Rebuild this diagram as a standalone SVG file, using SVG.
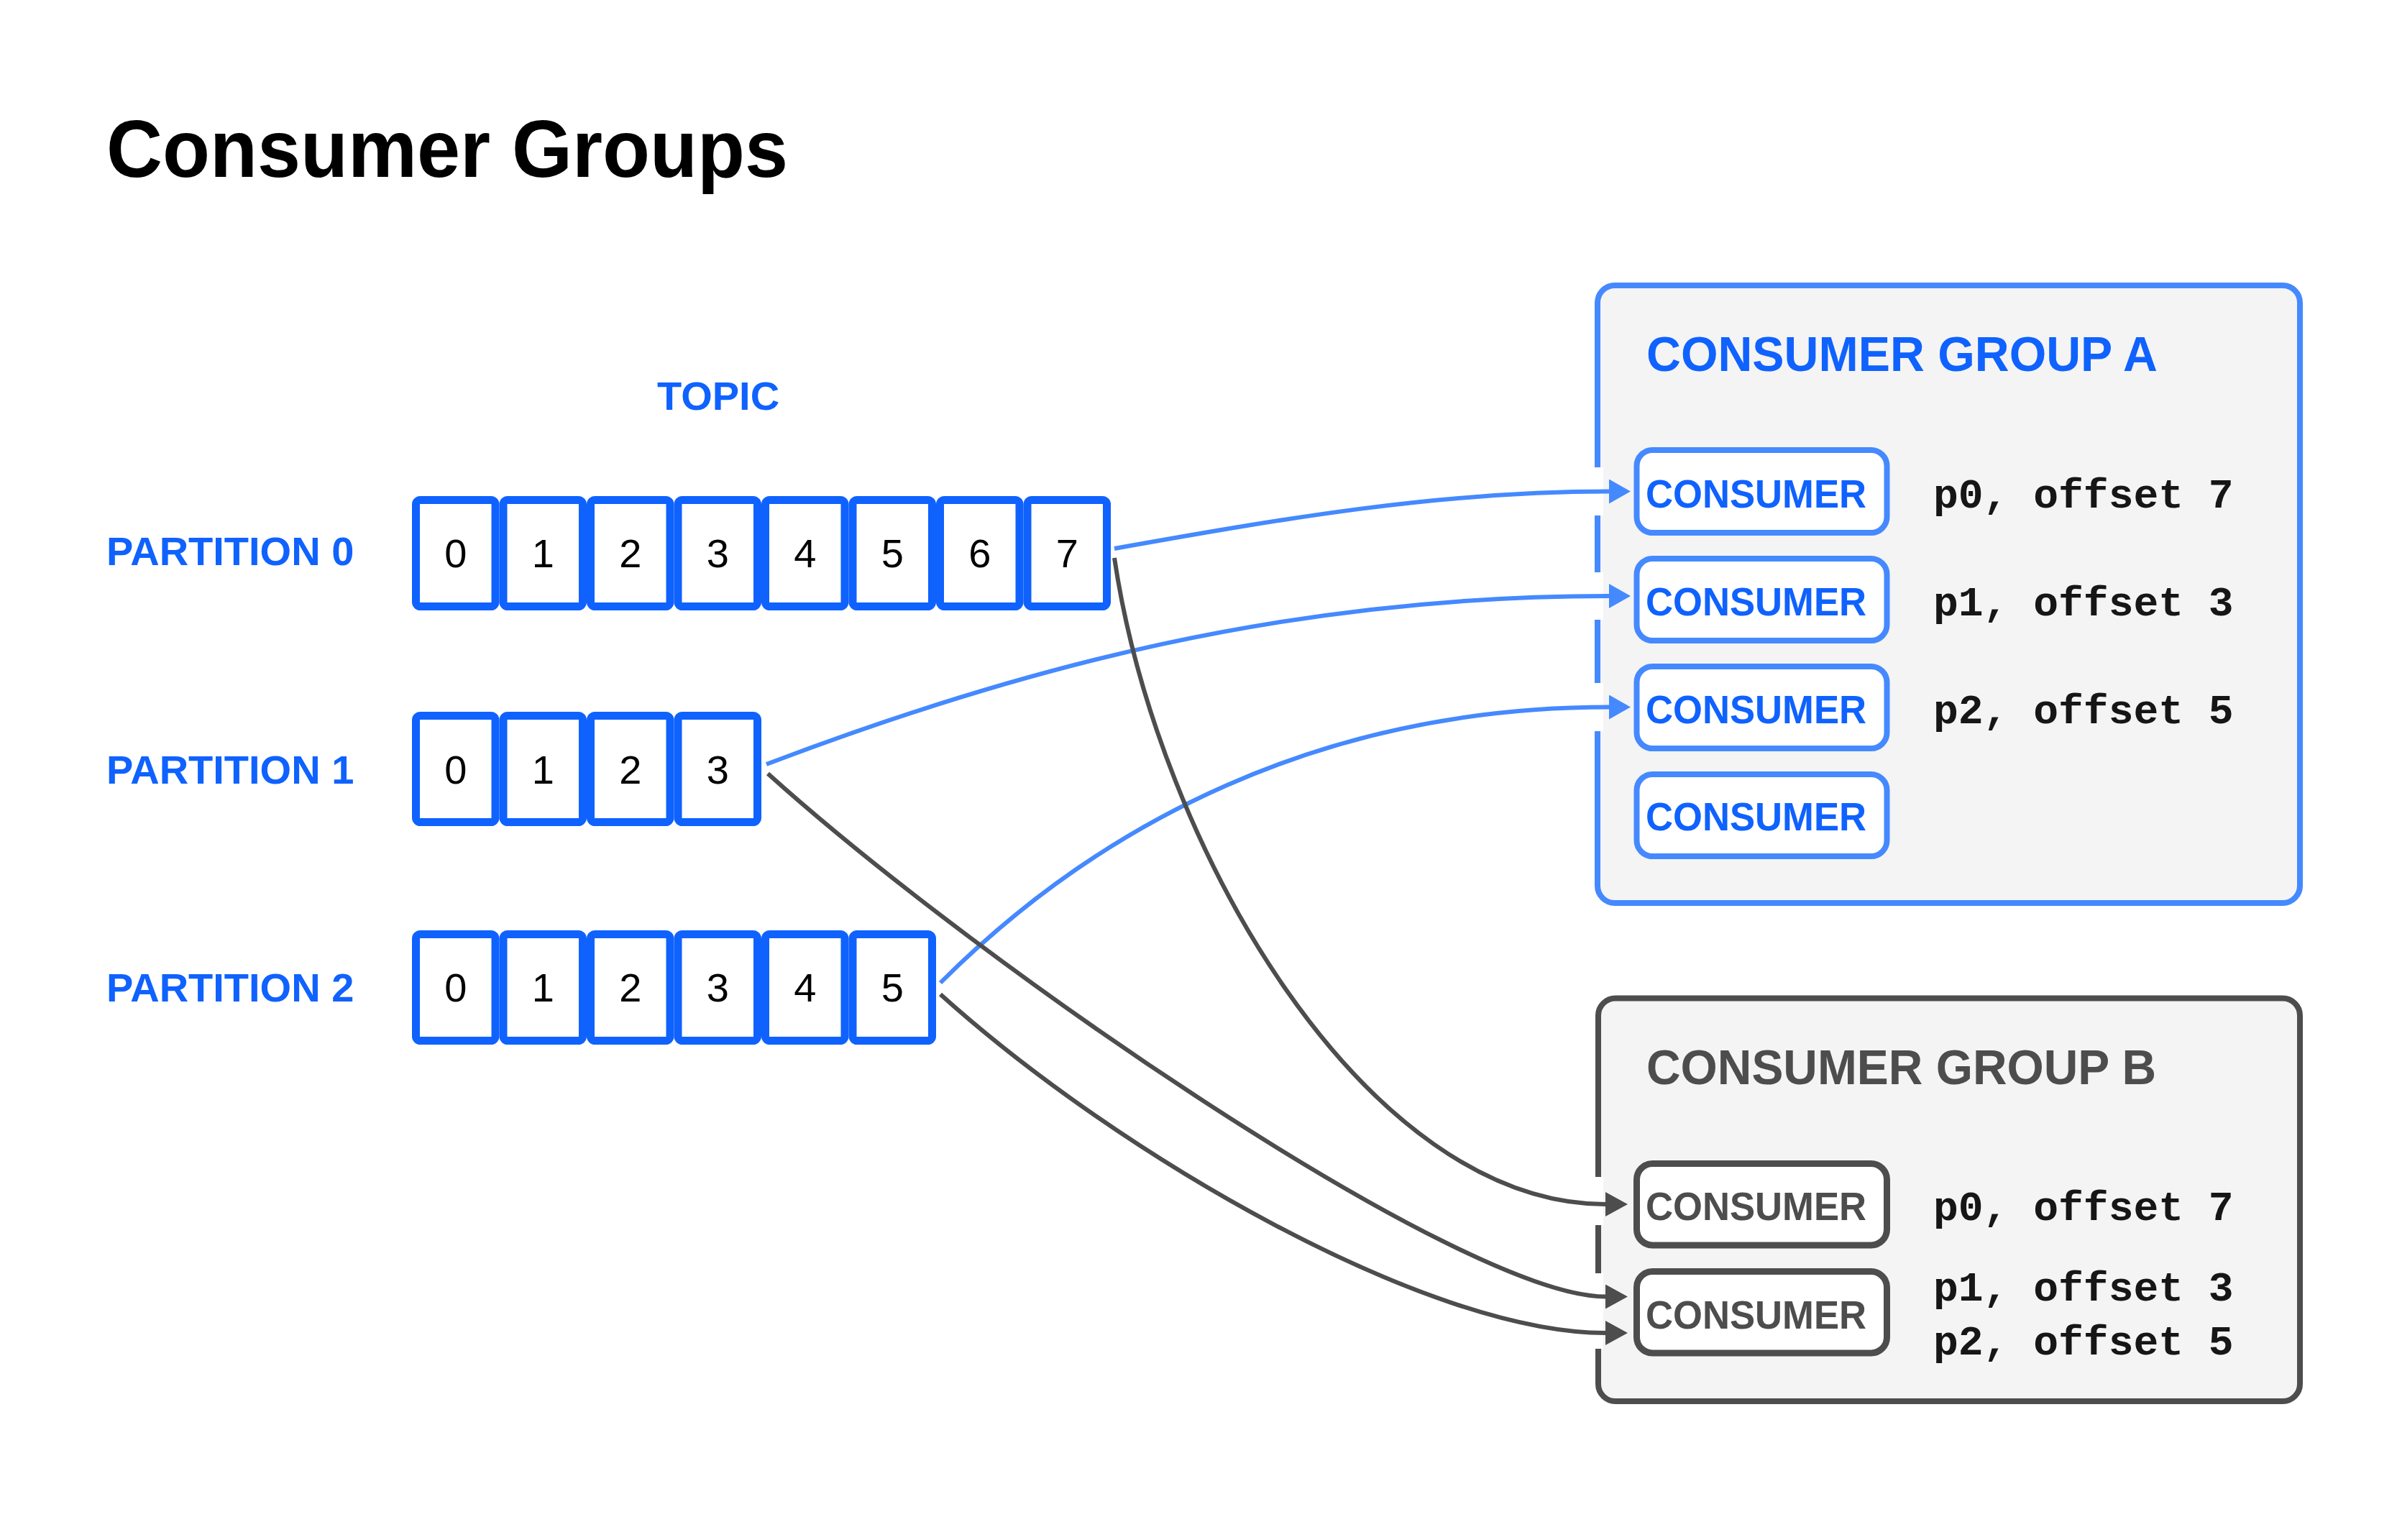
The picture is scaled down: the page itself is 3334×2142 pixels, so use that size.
<svg xmlns="http://www.w3.org/2000/svg" width="3334" height="2142" viewBox="0 0 3334 2142">
<style>
.sans{font-family:"Liberation Sans",Arial,sans-serif}
.mono{font-family:"Liberation Mono","Courier New",monospace;font-weight:bold;font-size:58px;fill:#161616}
.blue{fill:#0f62fe}
.gray{fill:#4d4d4d}
.cell{fill:#fff;stroke:#0f62fe;stroke-width:11}
.num{font-family:"Liberation Sans",Arial,sans-serif;font-size:56px;fill:#000;text-anchor:middle}
.plabel{font-family:"Liberation Sans",Arial,sans-serif;font-weight:bold;font-size:56px;fill:#0f62fe}
.grpA{fill:#f4f4f4;stroke:#4589ff;stroke-width:8}
.grpB{fill:#f4f4f4;stroke:#4d4d4d;stroke-width:8}
.conA{fill:#fff;stroke:#4589ff;stroke-width:8}
.conB{fill:#fff;stroke:#4d4d4d;stroke-width:9}
.ctext{font-family:"Liberation Sans",Arial,sans-serif;font-weight:bold;font-size:55px}
.gtitle{font-family:"Liberation Sans",Arial,sans-serif;font-weight:bold;font-size:68px}
.gap{fill:#fff}
.edgeA{fill:none;stroke:#4589ff;stroke-width:6}
.edgeB{fill:none;stroke:#4d4d4d;stroke-width:6}
</style>
<defs>
<marker id="arrA" markerUnits="userSpaceOnUse" markerWidth="30" markerHeight="34" viewBox="0 0 30 34" refX="0" refY="17" orient="auto">
<path d="M0,0 L30,17 L0,34 z" fill="#4589ff"/>
</marker>
<marker id="arrB" markerUnits="userSpaceOnUse" markerWidth="31" markerHeight="34" viewBox="0 0 31 34" refX="0" refY="17" orient="auto">
<path d="M0,0 L31,17 L0,34 z" fill="#4d4d4d"/>
</marker>
</defs>
<rect width="3334" height="2142" fill="#fff"/>

<text class="sans" x="148" y="246" font-size="114" font-weight="bold" fill="#000" textLength="948" lengthAdjust="spacingAndGlyphs">Consumer Groups</text>

<g id="topic-label">
<text class="plabel" x="914" y="570" font-size="55">TOPIC</text>
</g>

<g id="partition0">
<text class="plabel" x="148" y="786">PARTITION 0</text>
<rect class="cell" x="578.5" y="695.5" width="110.5" height="148" rx="6"/>
<rect class="cell" x="700" y="695.5" width="110.5" height="148" rx="6"/>
<rect class="cell" x="821.5" y="695.5" width="110.5" height="148" rx="6"/>
<rect class="cell" x="943" y="695.5" width="110.5" height="148" rx="6"/>
<rect class="cell" x="1064.5" y="695.5" width="110.5" height="148" rx="6"/>
<rect class="cell" x="1186" y="695.5" width="110.5" height="148" rx="6"/>
<rect class="cell" x="1307.5" y="695.5" width="110.5" height="148" rx="6"/>
<rect class="cell" x="1429" y="695.5" width="110.5" height="148" rx="6"/>
<text class="num" x="633.75" y="789">0</text>
<text class="num" x="755.25" y="789">1</text>
<text class="num" x="876.75" y="789">2</text>
<text class="num" x="998.25" y="789">3</text>
<text class="num" x="1119.75" y="789">4</text>
<text class="num" x="1241.25" y="789">5</text>
<text class="num" x="1362.75" y="789">6</text>
<text class="num" x="1484.25" y="789">7</text>
</g>

<g id="partition1">
<text class="plabel" x="148" y="1090">PARTITION 1</text>
<rect class="cell" x="578.5" y="995.5" width="110.5" height="148" rx="6"/>
<rect class="cell" x="700" y="995.5" width="110.5" height="148" rx="6"/>
<rect class="cell" x="821.5" y="995.5" width="110.5" height="148" rx="6"/>
<rect class="cell" x="943" y="995.5" width="110.5" height="148" rx="6"/>
<text class="num" x="633.75" y="1090">0</text>
<text class="num" x="755.25" y="1090">1</text>
<text class="num" x="876.75" y="1090">2</text>
<text class="num" x="998.25" y="1090">3</text>
</g>

<g id="partition2">
<text class="plabel" x="148" y="1393">PARTITION 2</text>
<rect class="cell" x="578.5" y="1299.5" width="110.5" height="148" rx="6"/>
<rect class="cell" x="700" y="1299.5" width="110.5" height="148" rx="6"/>
<rect class="cell" x="821.5" y="1299.5" width="110.5" height="148" rx="6"/>
<rect class="cell" x="943" y="1299.5" width="110.5" height="148" rx="6"/>
<rect class="cell" x="1064.5" y="1299.5" width="110.5" height="148" rx="6"/>
<rect class="cell" x="1186" y="1299.5" width="110.5" height="148" rx="6"/>
<text class="num" x="633.75" y="1393">0</text>
<text class="num" x="755.25" y="1393">1</text>
<text class="num" x="876.75" y="1393">2</text>
<text class="num" x="998.25" y="1393">3</text>
<text class="num" x="1119.75" y="1393">4</text>
<text class="num" x="1241.25" y="1393">5</text>
</g>

<g id="groupA">
<rect class="grpA" x="2222" y="397" width="977" height="859" rx="24"/>
<text class="gtitle blue" x="2290" y="516" textLength="711" lengthAdjust="spacingAndGlyphs">CONSUMER GROUP A</text>
<rect class="gap" x="2214" y="650" width="16" height="67"/>
<rect class="gap" x="2214" y="796" width="16" height="66"/>
<rect class="gap" x="2214" y="950" width="16" height="67"/>
</g>

<g id="groupB">
<rect class="grpB" x="2223" y="1388.5" width="976" height="560.5" rx="24"/>
<text class="gtitle gray" x="2290" y="1508" textLength="709" lengthAdjust="spacingAndGlyphs">CONSUMER GROUP B</text>
<rect class="gap" x="2214" y="1637" width="16" height="67"/>
<rect class="gap" x="2214" y="1771" width="16" height="105"/>
</g>

<g id="consumerA1">
<rect class="conA" x="2276.5" y="626" width="348" height="115" rx="22"/>
<text class="ctext blue" x="2289" y="706" textLength="307" lengthAdjust="spacingAndGlyphs">CONSUMER</text>
<text class="mono" x="2689" y="706">p0, offset 7</text>
</g>
<g id="consumerA2">
<rect class="conA" x="2276.5" y="777" width="348" height="114" rx="22"/>
<text class="ctext blue" x="2289" y="856" textLength="307" lengthAdjust="spacingAndGlyphs">CONSUMER</text>
<text class="mono" x="2689" y="856">p1, offset 3</text>
</g>
<g id="consumerA3">
<rect class="conA" x="2276.5" y="927" width="348" height="114" rx="22"/>
<text class="ctext blue" x="2289" y="1006" textLength="307" lengthAdjust="spacingAndGlyphs">CONSUMER</text>
<text class="mono" x="2689" y="1006">p2, offset 5</text>
</g>
<g id="consumerA4">
<rect class="conA" x="2276.5" y="1077" width="348" height="114" rx="22"/>
<text class="ctext blue" x="2289" y="1155" textLength="307" lengthAdjust="spacingAndGlyphs">CONSUMER</text>
</g>

<g id="consumerB1">
<rect class="conB" x="2276.5" y="1618.5" width="348" height="113.5" rx="22"/>
<text class="ctext gray" x="2289" y="1697" textLength="307" lengthAdjust="spacingAndGlyphs">CONSUMER</text>
<text class="mono" x="2689" y="1697">p0, offset 7</text>
</g>
<g id="consumerB2">
<rect class="conB" x="2276.5" y="1768.5" width="348" height="113.5" rx="22"/>
<text class="ctext gray" x="2289" y="1848" textLength="307" lengthAdjust="spacingAndGlyphs">CONSUMER</text>
<text class="mono" x="2689" y="1809">p1, offset 3</text>
<text class="mono" x="2689" y="1884">p2, offset 5</text>
</g>

<g id="connectors">
<path class="edgeA" d="M1550,763 C1780,722 2000,683.5 2238,683.5" marker-end="url(#arrA)"/>
<path class="edgeA" d="M1066,1063 C1416,930 1790,829 2238,829" marker-end="url(#arrA)"/>
<path class="edgeA" d="M1308,1367 C1528,1147 1837,983.5 2238,983.5" marker-end="url(#arrA)"/>
<path class="edgeB" d="M1550,776 C1610,1180 1900,1675 2233,1675" marker-end="url(#arrB)"/>
<path class="edgeB" d="M1068,1076 C1368,1346 2035,1803.5 2233,1803.5" marker-end="url(#arrB)"/>
<path class="edgeB" d="M1308,1383 C1558,1608 1985,1854 2233,1854" marker-end="url(#arrB)"/>
</g>
</svg>
